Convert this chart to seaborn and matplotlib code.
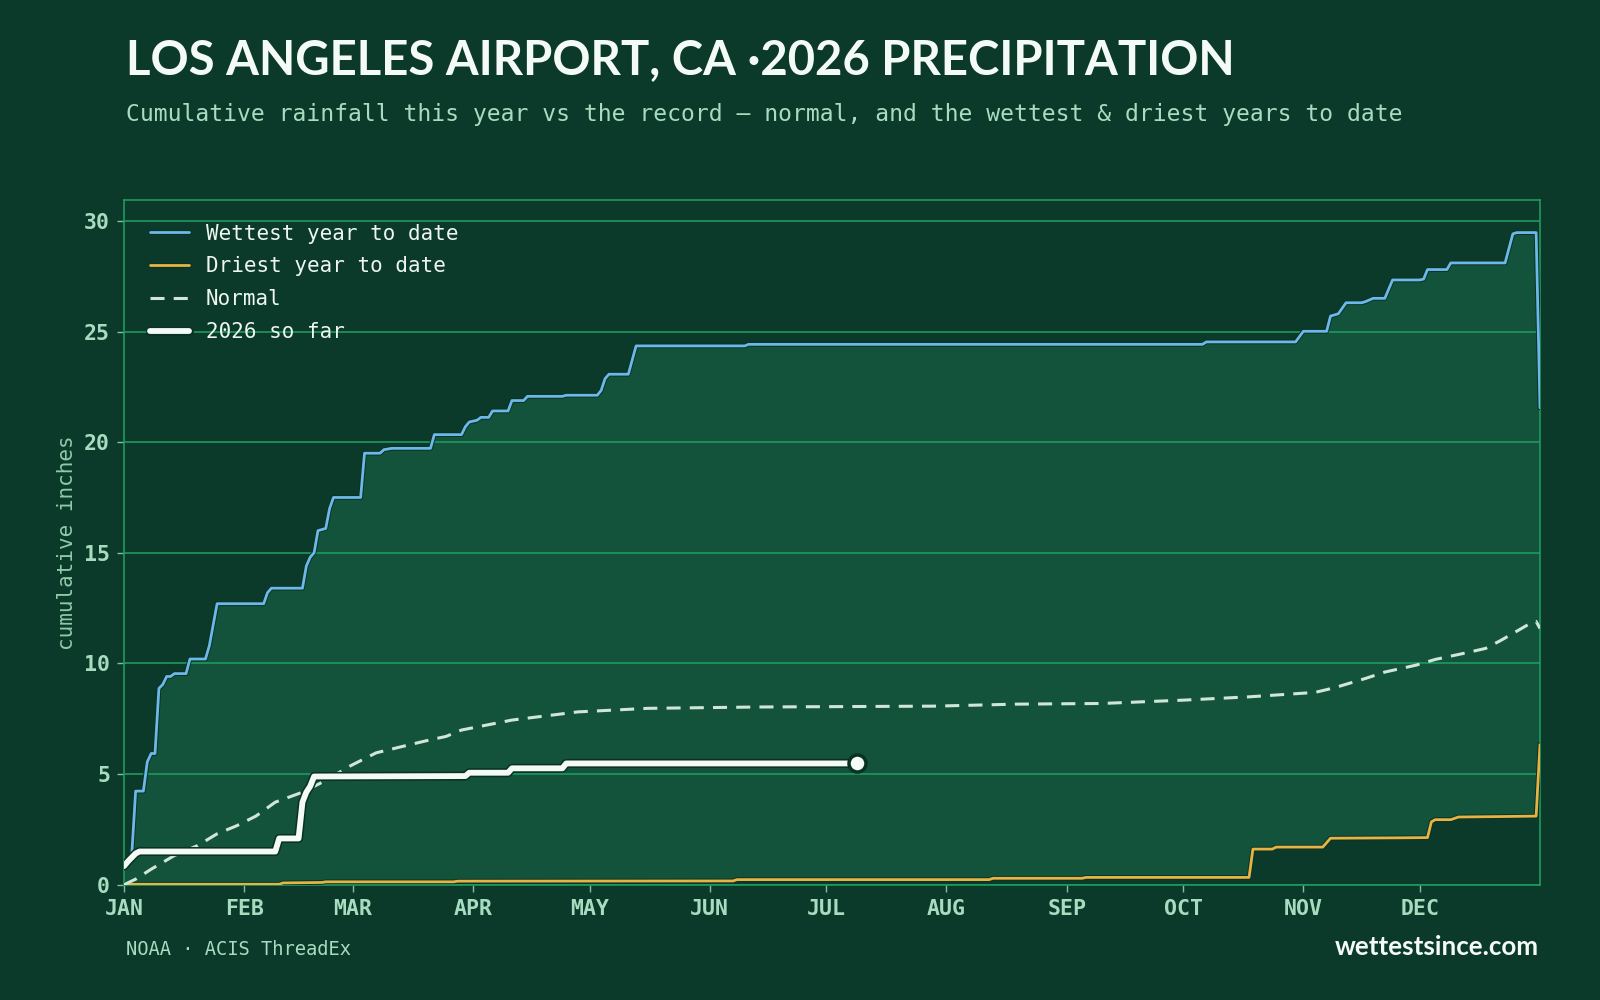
import numpy as np
import pandas as pd
import matplotlib.pyplot as plt
import matplotlib.patheffects as pe
import seaborn as sns

# colours
BG = "#0c3a2a"
FILL = "#13523b"
GRID = "#1f9a60"
MINT = "#a8dcc0"
WET_C = "#6cb8e8"
DRY_C = "#e6b445"
NORM_C = "#cfe6d8"
NOW_C = "#f4faf6"

# x axis: day of year, month starts
month_starts = [0, 31, 59, 90, 120, 151, 181, 212, 243, 273, 304, 334]
month_labels = ["JAN", "FEB", "MAR", "APR", "MAY", "JUN",
                "JUL", "AUG", "SEP", "OCT", "NOV", "DEC"]

# wettest year to date (day, cumulative inches)
wet_day = [0, 2, 3, 5, 6, 7, 8, 9, 10, 11, 12, 13, 16, 17, 21, 22, 24, 36, 37, 38,
           46, 47, 48, 49, 50, 52, 53, 54, 61, 62, 66, 67, 69, 79, 80, 87, 88, 89,
           91, 92, 94, 95, 99, 100, 103, 104, 113, 114, 122, 123, 124, 125, 130, 132,
           160, 161, 278, 279, 302, 304, 310, 311, 313, 315, 319, 320, 322, 325, 327,
           334, 335, 336, 341, 342, 356, 358, 359, 364, 365]
wet_in = [0.96, 1.35, 4.23, 4.23, 5.55, 5.93, 5.93, 8.87, 9.05, 9.41, 9.41, 9.54, 9.54,
          10.2, 10.2, 10.8, 12.7, 12.7, 13.2, 13.4,
          13.4, 14.4, 14.8, 15.0, 16.0, 16.1, 17.0, 17.5, 17.5, 19.5, 19.5, 19.66, 19.72,
          19.72, 20.34, 20.34, 20.7, 20.91,
          20.99, 21.12, 21.12, 21.41, 21.41, 21.88, 21.88, 22.07, 22.07, 22.12, 22.12,
          22.34, 22.87, 23.07, 23.07, 24.35,
          24.35, 24.42, 24.42, 24.53, 24.53, 25.01, 25.01, 25.7, 25.8, 26.3, 26.3, 26.35,
          26.5, 26.5, 27.33,
          27.33, 27.37, 27.8, 27.8, 28.1, 28.1, 29.41, 29.47, 29.47, 21.55]

# driest year to date
dry_day = [0, 40, 41, 51, 52, 85, 86, 157, 158, 223, 224, 247, 248, 290, 291, 296, 297,
           309, 311, 330, 336, 337, 338, 342, 344, 355, 364, 365]
dry_in = [0.02, 0.02, 0.08, 0.10, 0.13, 0.13, 0.16, 0.17, 0.23, 0.23, 0.29, 0.29, 0.33,
          0.33, 1.61, 1.61, 1.70, 1.70, 2.10, 2.12, 2.13, 2.84, 2.94, 2.94, 3.06, 3.08,
          3.10, 6.33]

# normal
norm_day = [0, 3, 7, 13, 19, 24, 29, 34, 39, 46, 52, 58, 65, 73, 79, 83, 87, 100, 117,
            135, 163, 209, 230, 252, 273, 290, 307, 312, 320, 325, 333, 338, 346, 351,
            355, 362, 364, 365]
norm_in = [0.0, 0.25, 0.70, 1.32, 1.77, 2.30, 2.66, 3.10, 3.73, 4.18, 4.71, 5.34, 5.96,
           6.30, 6.55, 6.70, 6.99, 7.44, 7.81, 7.97, 8.03, 8.07, 8.16, 8.19, 8.34, 8.49,
           8.69, 8.90, 9.32, 9.61, 9.92, 10.18, 10.48, 10.68, 11.05, 11.76, 11.90, 11.58]

# 2026 so far
now_day = [0, 1, 3, 4, 39, 40, 45, 46, 47, 48, 49, 88, 89, 99, 100, 113, 114, 189]
now_in = [0.84, 1.05, 1.41, 1.50, 1.50, 2.09, 2.09, 3.73, 4.18, 4.45, 4.89, 4.91, 5.06,
          5.06, 5.26, 5.26, 5.48, 5.48]

sns.set_theme(style="dark")
plt.rcParams["font.family"] = ["DejaVu Sans Mono"]

fig = plt.figure(figsize=(16, 10), dpi=100, facecolor=BG)
ax = fig.add_axes([0.0775, 0.1153, 0.885, 0.6847])
ax.set_facecolor(BG)
ax.set_axisbelow(True)

# band between driest and wettest
ax.fill(wet_day + dry_day[::-1], wet_in + dry_in[::-1], color=FILL, lw=0, zorder=0.2)

outline = [pe.Stroke(linewidth=3.4, foreground="#0a3224"), pe.Normal()]
sns.lineplot(x=wet_day, y=wet_in, color=WET_C, lw=2, label="Wettest year to date",
             ax=ax, zorder=3)
ax.lines[-1].set_path_effects(outline)
sns.lineplot(x=dry_day, y=dry_in, color=DRY_C, lw=2, label="Driest year to date",
             ax=ax, zorder=3)
ax.lines[-1].set_path_effects(outline)
sns.lineplot(x=norm_day, y=norm_in, color=NORM_C, lw=2.2, label="Normal",
             linestyle=(0, (4.6, 3.0)), ax=ax, zorder=3)
sns.lineplot(x=now_day, y=now_in, color=NOW_C, lw=4.2, label="2026 so far",
             ax=ax, zorder=4)
ax.lines[-1].set_path_effects([pe.Stroke(linewidth=6.5, foreground="#0a3224"), pe.Normal()])
sns.scatterplot(x=now_day[-1:], y=now_in[-1:], s=150, color=NOW_C, edgecolor="#0a3224",
                linewidth=2.5, ax=ax, zorder=5)

ax.set_xlim(0, 365)
ax.set_ylim(0, max(wet_in) * 1.05)
ax.set_xticks(month_starts)
ax.set_xticklabels(month_labels)
ax.set_yticks(range(0, 31, 5))
ax.yaxis.grid(True, color=GRID, lw=1.2)
ax.xaxis.grid(False)
for s in ax.spines.values():
    s.set_visible(True)
    s.set_color(GRID)
    s.set_linewidth(1.2)
ax.tick_params(axis="both", which="major", length=5, width=1, color="#7fbf9c",
               labelcolor=MINT, labelsize=15.5, pad=5, bottom=True, left=True)
for lbl in ax.get_xticklabels() + ax.get_yticklabels():
    lbl.set_fontweight("bold")
ax.set_xlabel("")
ax.set_ylabel("cumulative inches", color="#8fcaa9", fontsize=15)
ax.yaxis.set_label_coords(-0.033, 0.5)

leg = ax.legend(loc="upper left", frameon=False, fontsize=15, labelspacing=0.62,
                handlelength=1.9, handletextpad=0.8, bbox_to_anchor=(0.005, 0.993))
for t in leg.get_texts():
    t.set_color("#eef6f1")

fig.text(0.079, 0.926, "LOS ANGELES AIRPORT, CA \u00b72026 PRECIPITATION", family="Lato",
         fontweight="bold", fontsize=34, color="#f4faf6", va="baseline")
fig.text(0.079, 0.879,
         "Cumulative rainfall this year vs the record \u2014 normal, and the wettest & driest years to date",
         fontsize=16.6, color=MINT, va="baseline")
fig.text(0.079, 0.045, "NOAA \u00b7 ACIS ThreadEx", fontsize=13.5, color=MINT, va="baseline")
fig.text(0.9615, 0.045, "wettestsince.com", family="Lato", fontweight="bold", fontsize=18.7,
         color="#f4faf6", ha="right", va="baseline")

fig.savefig("out.png", dpi=100, facecolor=BG)
